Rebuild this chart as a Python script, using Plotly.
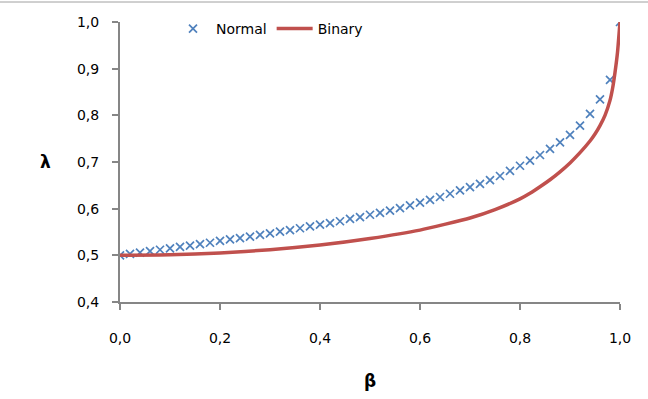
import plotly.graph_objects as go

# Normal series (markers), beta step 0.02
normal_beta = [i / 50 for i in range(51)]
normal_lambda = [0.500, 0.503, 0.506, 0.509, 0.512, 0.515, 0.518, 0.521, 0.524, 0.527,
                 0.531, 0.534, 0.537, 0.540, 0.544, 0.547, 0.551, 0.554, 0.558, 0.562,
                 0.566, 0.569, 0.573, 0.578, 0.582, 0.587, 0.591, 0.596, 0.601, 0.607,
                 0.613, 0.619, 0.625, 0.632, 0.639, 0.646, 0.653, 0.661, 0.670, 0.681,
                 0.692, 0.703, 0.715, 0.728, 0.742, 0.758, 0.778, 0.803, 0.834, 0.876,
                 1.000]

# Binary series (line)
binary_beta = [0.0, 0.1, 0.2, 0.3, 0.4, 0.5, 0.6, 0.7, 0.75, 0.8, 0.82, 0.84, 0.86,
               0.88, 0.9, 0.92, 0.94, 0.95, 0.96, 0.97, 0.98, 0.985, 0.99, 0.995, 1.0]
binary_lambda = [0.500, 0.501, 0.505, 0.512, 0.522, 0.536, 0.554, 0.580, 0.598, 0.621,
                 0.633, 0.647, 0.662, 0.679, 0.698, 0.720, 0.745, 0.760, 0.778, 0.800,
                 0.832, 0.857, 0.892, 0.935, 1.000]

x_ticks = [0.0, 0.2, 0.4, 0.6, 0.8, 1.0]
y_ticks = [0.4, 0.5, 0.6, 0.7, 0.8, 0.9, 1.0]

font_family = "DejaVu Sans, Liberation Sans, sans-serif"
axis_gray = "#868686"

fig = go.Figure()
fig.add_trace(go.Scatter(
    x=normal_beta, y=normal_lambda, mode="markers", name="Normal",
    marker=dict(symbol="x-thin", size=8, color="#4F81BD",
                line=dict(color="#4F81BD", width=1.7)),
))
fig.add_trace(go.Scatter(
    x=binary_beta, y=binary_lambda, mode="lines", name="Binary",
    line=dict(color="#C0504D", width=3.5, shape="spline", smoothing=0.5),
))

fig.update_layout(
    width=648, height=399,
    margin=dict(l=120, r=28, t=22, b=97),
    paper_bgcolor="white", plot_bgcolor="white",
    separators=", ",
    font=dict(family=font_family, size=14, color="#000000"),
    showlegend=True,
    legend=dict(orientation="h", x=0.10, y=0.975, xanchor="left", yanchor="middle",
                font=dict(size=14), bgcolor="rgba(0,0,0,0)", itemwidth=36,
                tracegroupgap=0),
    xaxis=dict(
        range=[0, 1.0], tickvals=x_ticks, tickformat=".1f",
        showgrid=False, zeroline=False,
        showline=True, linecolor=axis_gray, linewidth=2,
        ticks="outside", ticklen=6, tickcolor=axis_gray, tickwidth=2,
        ticklabelstandoff=16,
        title=dict(text="<b>β</b>", font=dict(size=17), standoff=30),
    ),
    yaxis=dict(
        range=[0.4, 1.0], tickvals=y_ticks, tickformat=".1f",
        showgrid=False, zeroline=False,
        showline=True, linecolor=axis_gray, linewidth=2,
        ticks="outside", ticklen=6, tickcolor=axis_gray, tickwidth=2,
        ticklabelstandoff=10,
    ),
    annotations=[dict(text="<b>λ</b>", xref="paper", yref="y",
                      x=-0.15, y=0.7, showarrow=False, xanchor="center",
                      yanchor="middle", font=dict(size=17))],
    shapes=[dict(type="line", xref="paper", yref="paper",
                 x0=-0.24, x1=1.056, y0=1.0714, y1=1.0714,
                 line=dict(color="#A0A0A0", width=1))],
)

fig.write_html("out.html")
